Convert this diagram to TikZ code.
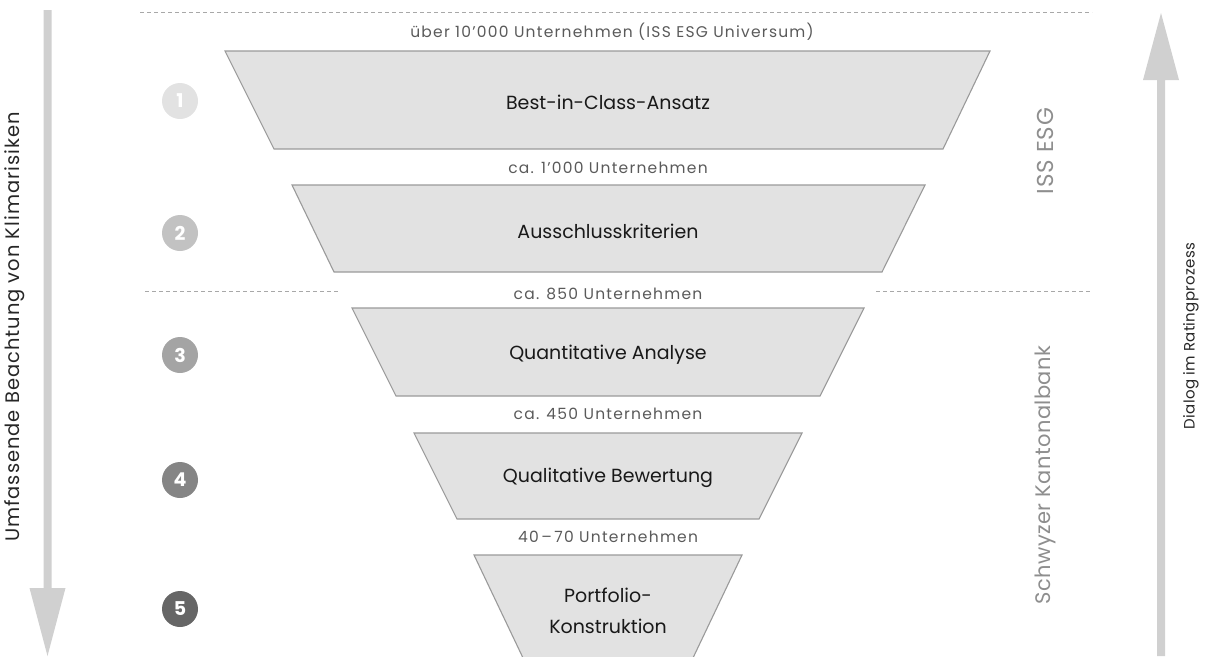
\documentclass[tikz,border=0pt]{standalone}
\usepackage{fontspec}
\setmainfont{Poppins}
\usetikzlibrary{calc}
\definecolor{trapfill}{HTML}{E2E2E2}
\definecolor{trapedge}{HTML}{9A9A9A}
\definecolor{arrowgray}{HTML}{D0D0D0}
\definecolor{labelgray}{HTML}{5A5A5A}
\definecolor{sidegray}{HTML}{8E8E8E}
\definecolor{dashgray}{HTML}{A8A8A8}
\definecolor{cA}{HTML}{E2E2E2}
\definecolor{cB}{HTML}{C2C2C2}
\definecolor{cC}{HTML}{A4A4A4}
\definecolor{cD}{HTML}{858585}
\definecolor{cE}{HTML}{666666}
\tikzset{
  trap/.style={fill=trapfill,draw=trapedge,line width=1.1pt,line join=miter},
  stagetext/.style={font=\fontsize{19}{31}\selectfont,text=black!90,align=center,inner sep=0pt},
  countlabel/.style={font=\fontsize{15.5}{18}\selectfont\addfontfeature{LetterSpace=8},text=labelgray,inner sep=0pt},
  numcircle/.style={circle,minimum size=36pt,inner sep=0pt,text=white,font=\fontsize{19}{19}\selectfont\bfseries},
  sidelabelL/.style={font=\fontsize{19.5}{22}\selectfont\addfontfeature{LetterSpace=5},text=black!85,rotate=90,inner sep=0pt},
  sidelabelR/.style={font=\fontsize{15}{18}\selectfont\addfontfeature{LetterSpace=2},text=black!85,rotate=90,inner sep=0pt},
  grouplabel/.style={text=sidegray,rotate=90,inner sep=0pt},
  dashline/.style={draw=dashgray,dash pattern=on 4pt off 3pt,line width=0.8pt},
  bigarrow/.style={fill=arrowgray,draw=none}
}
\begin{document}
\begin{tikzpicture}[x=1pt,y=-1pt]
\useasboundingbox (0,0) rectangle (1210,656);
% dashed separators
\coordinate (d1a) at (140,12);
\coordinate (d1b) at (1092,12);
\draw[dashline] (d1a) -- (d1b);
\coordinate (d2a) at (145,291);
\coordinate (d2b) at (340,291);
\coordinate (d2c) at (876,291);
\coordinate (d2d) at (1092,291);
\draw[dashline] (d2a) -- (d2b);
\draw[dashline] (d2c) -- (d2d);
% trapezoids
\draw[trap] (225,51) -- (990,51) -- (943,149) -- (274,149) -- cycle;
\draw[trap] (292,185) -- (925,185) -- (882,272) -- (334,272) -- cycle;
\draw[trap] (352,308) -- (864,308) -- (820,396) -- (396,396) -- cycle;
\draw[trap] (414,433) -- (802,433) -- (759,519) -- (457,519) -- cycle;
\fill[trapfill] (474,555) -- (742,555) -- (692,660) -- (524,660) -- cycle;
\draw[trapedge,line width=1.1pt] (524,660) -- (474,555) -- (742,555) -- (692,660);
% stage texts
\node[stagetext] (s1) at (608,102) {Best-in-Class-Ansatz};
\node[stagetext] (s2) at (608,231) {Ausschlusskriterien};
\node[stagetext] (s3) at (608,355) {Quantitative Analyse};
\node[stagetext] (s4) at (608,478) {Qualitative Bewertung};
\node[stagetext] (s5) at (608,611) {Portfolio-\\Konstruktion};
% count labels
\node[countlabel] (c0) at (612,32) {über 10'000 Unternehmen (ISS ESG Universum)};
\node[countlabel] (c1) at (608,168) {ca. 1'000 Unternehmen};
\node[countlabel] (c2) at (608,294) {ca. 850 Unternehmen};
\node[countlabel] (c3) at (608,414) {ca. 450 Unternehmen};
\node[countlabel] (c4) at (608,537) {40\,–\,70 Unternehmen};
% number circles
\node[numcircle,fill=cA] (n1) at (180,101) {1};
\node[numcircle,fill=cB] (n2) at (180,233) {2};
\node[numcircle,fill=cC] (n3) at (180,355) {3};
\node[numcircle,fill=cD] (n4) at (180,480) {4};
\node[numcircle,fill=cE] (n5) at (180,609) {5};
% group labels
\node[grouplabel,font=\fontsize{23}{26}\selectfont\addfontfeature{LetterSpace=4}] (g1) at (1045,151) {ISS ESG};
\node[grouplabel,font=\fontsize{21}{24}\selectfont\addfontfeature{LetterSpace=2}] (g2) at (1045,475) {Schwyzer Kantonalbank};
% big arrows
\fill[bigarrow] (43.5,10) -- (51.5,10) -- (51.5,588) -- (65.5,588) -- (47.5,656) -- (29.5,588) -- (43.5,588) -- cycle;
\fill[bigarrow] (1157,656) -- (1165,656) -- (1165,80) -- (1179,80) -- (1161,13) -- (1143,80) -- (1157,80) -- cycle;
\node[sidelabelL] (l1) at (15,327) {Umfassende Beachtung von Klimarisiken};
\node[sidelabelR] (l2) at (1191,336) {Dialog im Ratingprozess};
\end{tikzpicture}
\end{document}
